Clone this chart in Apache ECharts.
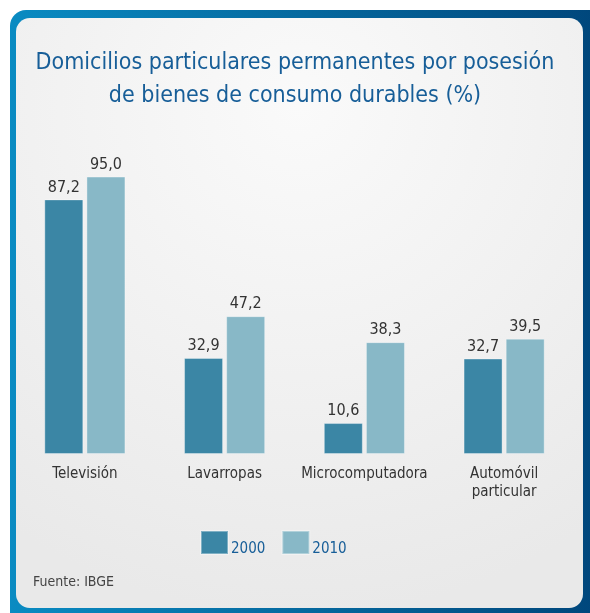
<!DOCTYPE html>
<html>
<head>
<meta charset="utf-8">
<script src="https://cdn.jsdelivr.net/npm/echarts@6/dist/echarts.min.js"></script>
<style>
html,body{margin:0;padding:0;background:#ffffff;}
#chart{width:590px;height:613px;}
</style>
</head>
<body>
<div id="chart"></div>
<script>
var categories = ['Televisión', 'Lavarropas', 'Microcomputadora', 'Automóvil\nparticular'];
var seriesNames = ['2000', '2010'];
var values2000 = [87.2, 32.9, 10.6, 32.7];
var values2010 = [95.0, 47.2, 38.3, 39.5];
var titleText = 'Domicilios particulares permanentes por posesión\nde bienes de consumo durables (%)';
var sourceText = 'Fuente: IBGE';

var FONT = '"Liberation Sans Narrow", "DejaVu Sans Condensed", sans-serif';
var colors = ['#3b86a5', '#88b8c7'];

function fmt(p) { return p.value.toFixed(1).replace('.', ','); }

var chart = echarts.init(document.getElementById('chart'), null, {renderer: 'canvas'});
chart.setOption({
  animation: false,
  backgroundColor: '#ffffff',
  color: colors,
  graphic: [
    {
      type: 'rect', z: -10, silent: true,
      shape: {x: 10, y: 10, width: 600, height: 620, r: 16},
      style: {
        fill: new echarts.graphic.LinearGradient(0, 0, 1, 0, [
          {offset: 0, color: '#0a8bc2'},
          {offset: 1, color: '#00457a'}
        ])
      }
    },
    {
      type: 'rect', z: -9, silent: true,
      shape: {x: 16, y: 18, width: 567, height: 590, r: 14},
      style: {
        fill: new echarts.graphic.RadialGradient(0.5, 0.15, 0.9, [
          {offset: 0, color: '#fafafa'},
          {offset: 1, color: '#e9e9e9'}
        ])
      }
    },
    {
      type: 'text', left: 33, top: 575, silent: true,
      style: {text: sourceText, fill: '#444444', font: '14px ' + FONT}
    }
  ],
  title: {
    text: titleText,
    left: 'center',
    top: 42,
    textStyle: {
      color: '#175e98',
      fontFamily: FONT,
      fontSize: 23,
      fontWeight: 'normal',
      lineHeight: 33
    }
  },
  legend: {
    data: seriesNames,
    left: 200,
    top: 530,
    padding: 0,
    itemWidth: 27,
    itemHeight: 23,
    itemGap: 16,
    icon: 'rect',
    formatter: function (name) { return '{s|}{a|' + name + '}'; },
    textStyle: {
      color: '#175e98',
      fontFamily: FONT,
      fontSize: 15,
      rich: {
        s: {height: 28, width: 0},
        a: {
          color: '#175e98', fontFamily: FONT, fontSize: 15,
          verticalAlign: 'bottom', padding: [0, 0, 0, -2]
        }
      }
    }
  },
  grid: {left: 15, right: 16, top: 162, bottom: 159, containLabel: false},
  xAxis: {
    type: 'category',
    data: categories,
    axisLine: {show: false},
    axisTick: {show: false},
    axisLabel: {
      interval: 0,
      color: '#333333',
      fontFamily: FONT,
      fontSize: 15,
      margin: 11,
      lineHeight: 18
    }
  },
  yAxis: {
    type: 'value',
    min: 0,
    max: 100,
    show: false,
    splitLine: {show: false}
  },
  series: [
    {
      name: seriesNames[0],
      type: 'bar',
      data: values2000,
      barWidth: 39,
      barGap: '8%',
      itemStyle: {color: colors[0], borderColor: 'rgba(255,255,255,0.35)', borderWidth: 1},
      label: {
        show: true, position: 'top', distance: 4, formatter: fmt,
        color: '#333333', fontFamily: FONT, fontSize: 16
      }
    },
    {
      name: seriesNames[1],
      type: 'bar',
      data: values2010,
      barWidth: 39,
      barGap: '8%',
      itemStyle: {color: colors[1], borderColor: 'rgba(255,255,255,0.35)', borderWidth: 1},
      label: {
        show: true, position: 'top', distance: 4, formatter: fmt,
        color: '#333333', fontFamily: FONT, fontSize: 16
      }
    }
  ]
});
</script>
</body>
</html>
